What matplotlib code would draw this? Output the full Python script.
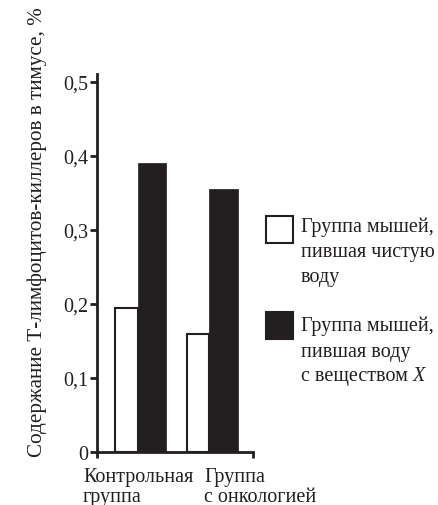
import matplotlib
matplotlib.use("Agg")
import matplotlib.pyplot as plt
from matplotlib.patches import Rectangle
from matplotlib.transforms import offset_copy

plt.rcParams['font.family'] = ['Liberation Serif', 'DejaVu Serif']

groups = ["Контрольная\nгруппа", "Группа\nс онкологией"]
clean_water = [0.195, 0.16]
substance_x = [0.39, 0.355]
yticks = [0, 0.1, 0.2, 0.3, 0.4, 0.5]
ytick_labels = ["0", "0,1", "0,2", "0,3", "0,4", "0,5"]
ylabel = "Содержание Т-лимфоцитов-киллеров в тимусе, %"
legend_lines = [["Группа мышей,", "пившая чистую", "воду"],
                ["Группа мышей,", "пившая воду", "с веществом "]]
legend_italic_tail = ["", "X"]

W, H = 438, 506
fig = plt.figure(figsize=(W / 100, H / 100), dpi=100)

def fx(px):
    return px / W

def fy(py):
    return 1 - py / H

ax_left, ax_right, ax_top, ax_bottom = 97, 253, 75, 453
ax = fig.add_axes([fx(ax_left), fy(ax_bottom), fx(ax_right - ax_left), (ax_bottom - ax_top) / H])

dark = "#231f20"
px_per_unit = 72.0
w_white = 22.5 / px_per_unit
w_black = 28.5 / px_per_unit
xpos = list(range(len(groups)))

ax.bar([x - w_white for x in xpos], clean_water, width=w_white, align='edge',
       color='white', edgecolor=dark, linewidth=1.5)
ax.bar(xpos, substance_x, width=w_black, align='edge', color=dark, edgecolor=dark, linewidth=0.5)

xl = (ax_left - 137.5) / px_per_unit
xr = (ax_right - 137.5) / px_per_unit
ax.set_xlim(xl, xr)
ax.set_ylim(0, 0.5 + 7.7 / 740.6)

for s in ['top', 'right']:
    ax.spines[s].set_visible(False)
for s in ['left', 'bottom']:
    ax.spines[s].set_linewidth(2.0)
    ax.spines[s].set_color(dark)

ax.set_yticks(yticks)
ax.set_yticklabels(ytick_labels, fontsize=14.5)
ax.tick_params(axis='y', length=5, width=2.0, pad=1.5, color=dark, labelcolor=dark)
ax.set_xticks([xl, xr])
ax.set_xticklabels([])
ax.tick_params(axis='x', length=4, width=2.0, color=dark)

label_left = [83, 204]
for lx, txt in zip(label_left, groups):
    ax.annotate(txt, xy=((lx - 137.5) / px_per_unit, 0), xycoords=('data', 'axes fraction'),
                xytext=(0, -15), textcoords='offset pixels', ha='left', va='top',
                fontsize=14.5, linespacing=1.05, color=dark, annotation_clip=False)

fig.text(fx(41.7), fy(456.7), ylabel, rotation=90, rotation_mode='anchor',
         ha='left', va='baseline', fontsize=15.2, color=dark)

# legend
squares = [(266, 217, 'white'), (266, 313, dark)]
first_baselines = [232, 331.5]
line_step = 25
renderer = fig.canvas.get_renderer()
for (sx, sy, col), b0, lines, tail in zip(squares, first_baselines, legend_lines, legend_italic_tail):
    fig.add_artist(Rectangle((fx(sx), fy(sy + 27)), fx(27), 27 / H, transform=fig.transFigure,
                             facecolor=col, edgecolor=dark, linewidth=1.5))
    for i, line in enumerate(lines):
        t = fig.text(fx(301), fy(b0 + i * line_step), line, ha='left', va='baseline',
                     fontsize=14.5, color=dark)
        if tail and i == len(lines) - 1:
            bb = t.get_window_extent(renderer)
            fig.text(bb.x1 / W, fy(b0 + i * line_step), tail, ha='left', va='baseline',
                     fontsize=14.5, style='italic', color=dark)

fig.savefig("out.png", dpi=100)
